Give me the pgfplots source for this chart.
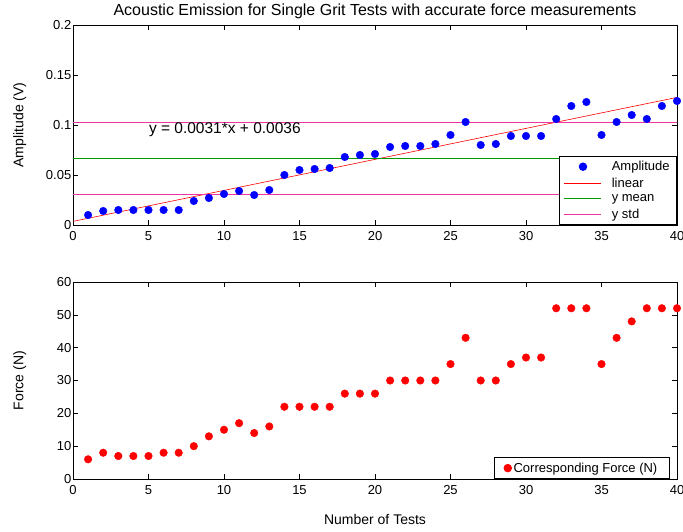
\documentclass[border=0pt]{standalone}
\usepackage{fontspec}
\setmainfont{Liberation Sans}
\usepackage{pgfplots}
\pgfplotsset{compat=1.18}
\pgfplotsset{
  mat/.style={
    scale only axis, width=604pt, xmin=0, xmax=40, xtick={0,5,...,40},
    tick align=inside, major tick length=5pt,
    axis line style={line width=0.8pt},
    every tick/.style={black, line width=0.6pt},
    /pgf/number format/assume math mode=true,
    ticklabel style={font=\fontsize{13}{15}\selectfont},
    xticklabel style={yshift=-3pt},
    yticklabel style={inner sep=1.5pt},
    label style={font=\fontsize{14}{16}\selectfont},
  }
}
\begin{document}
\begin{tikzpicture}
\begin{axis}[mat, at={(73pt,307pt)}, anchor=south west, height=200pt,
  ymin=0, ymax=0.2, ytick={0,0.05,0.1,0.15,0.2},
  yticklabel style={/pgf/number format/fixed, /pgf/number format/precision=2},
  ylabel={Amplitude (V)},
  ylabel style={at={(axis description cs:-0.088,0.5)}, anchor=center},
  title={Acoustic Emission for Single Grit Tests with accurate force measurements},
  title style={font=\fontsize{16}{18}\selectfont, yshift=-3pt},
  legend image code/.code={\draw[mark repeat=2,mark phase=2,#1] plot coordinates {(0pt,0pt) (18.5pt,0pt) (37pt,0pt)};},
  legend style={at={(rel axis cs:1,0)}, anchor=south east, draw=black, line width=0.8pt,
    font=\fontsize{13}{15}\selectfont, inner xsep=5pt, inner ysep=3pt, column sep=8pt,
    row sep=1.7pt, cells={anchor=west}},
]
\addplot[only marks, mark=*, mark size=3.8pt, blue, mark options={draw=blue, fill=blue}] coordinates {
(1,0.010) (2,0.014) (3,0.015) (4,0.015) (5,0.015) (6,0.015) (7,0.015) (8,0.024)
(9,0.027) (10,0.031) (11,0.034) (12,0.030) (13,0.035) (14,0.050) (15,0.055) (16,0.056)
(17,0.057) (18,0.068) (19,0.070) (20,0.071) (21,0.078) (22,0.079) (23,0.079) (24,0.081)
(25,0.090) (26,0.103) (27,0.080) (28,0.081) (29,0.089) (30,0.089) (31,0.089) (32,0.106)
(33,0.119) (34,0.123) (35,0.090) (36,0.103) (37,0.110) (38,0.106) (39,0.119) (40,0.124)};
\addlegendentry{Amplitude}
\addplot[red, line width=0.6pt] coordinates {(0,0.0036) (40,0.1276)};
\addlegendentry{linear}
\addplot[green!60!black, line width=0.5pt] coordinates {(0,0.0665) (40,0.0665)};
\addlegendentry{y mean}
\addplot[magenta!80!white, line width=0.5pt] coordinates {(0,0.1027) (40,0.1027)};
\addlegendentry{y std}
\addplot[magenta!80!white, line width=0.5pt, forget plot] coordinates {(0,0.0303) (40,0.0303)};
\node[anchor=west, font=\fontsize{15.5}{17}\selectfont] at (axis cs:4.8,0.095) {y = 0.0031*x + 0.0036};
\end{axis}
\begin{axis}[mat, at={(73pt,53pt)}, anchor=south west, height=197pt,
  ymin=0, ymax=60, ytick={0,10,...,60},
  ylabel={Force (N)},
  ylabel style={at={(axis description cs:-0.088,0.5)}, anchor=center},
  xlabel={Number of Tests},
  xlabel style={at={(axis description cs:0.5,-0.208)}, anchor=center},
  legend style={at={(rel axis cs:0.988,0)}, anchor=south east, draw=black, line width=0.8pt,
    font=\fontsize{13}{15}\selectfont, inner xsep=10pt, inner ysep=3pt},
  legend image code/.code={\draw[mark repeat=2,mark phase=2,#1] plot coordinates {(0pt,0pt) (4pt,0pt) (8pt,0pt)};},
]
\addplot[only marks, mark=*, mark size=3.8pt, red, mark options={draw=red, fill=red}] coordinates {
(1,6) (2,8) (3,7) (4,7) (5,7) (6,8) (7,8) (8,10) (9,13) (10,15) (11,17) (12,14) (13,16)
(14,22) (15,22) (16,22) (17,22) (18,26) (19,26) (20,26) (21,30) (22,30) (23,30) (24,30)
(25,35) (26,43) (27,30) (28,30) (29,35) (30,37) (31,37) (32,52) (33,52) (34,52) (35,35)
(36,43) (37,48) (38,52) (39,52) (40,52)};
\addlegendentry{Corresponding Force (N)}
\end{axis}
\pgfresetboundingbox
\path[use as bounding box] (0,0) rectangle (683pt,532pt);
\end{tikzpicture}
\end{document}
